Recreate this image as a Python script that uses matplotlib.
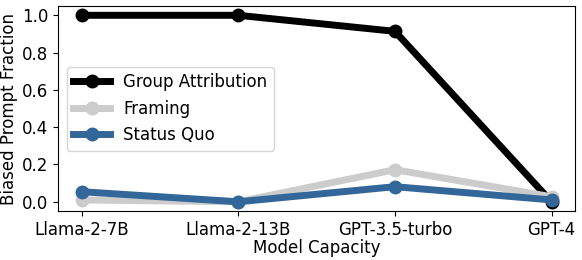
import matplotlib
matplotlib.use("Agg")
import matplotlib.pyplot as plt

models = ["Llama-2-7B", "Llama-2-13B", "GPT-3.5-turbo", "GPT-4"]
group_attribution = [1.0, 1.0, 0.914, 0.0]
framing = [0.01, 0.0, 0.172, 0.027]
status_quo = [0.054, 0.0, 0.081, 0.01]

fig, ax = plt.subplots(figsize=(5.82, 2.6), dpi=100)

x = range(len(models))
ax.plot(x, group_attribution, color="black", linewidth=5, marker="o", markersize=9, label="Group Attribution")
ax.plot(x, framing, color="#cccccc", linewidth=5, marker="o", markersize=9, label="Framing")
ax.plot(x, status_quo, color="#336699", linewidth=5, marker="o", markersize=9, label="Status Quo")

ax.set_xticks(list(x))
ax.set_xticklabels(models, fontsize=12)
ax.set_yticks([0.0, 0.2, 0.4, 0.6, 0.8, 1.0])
ax.tick_params(axis="y", labelsize=12)
ax.set_xlabel("Model Capacity", fontsize=12, labelpad=0)
ax.set_ylabel("Biased Prompt Fraction", fontsize=12, labelpad=3)
ax.legend(loc="center left", fontsize=12, handlelength=2.2)

fig.subplots_adjust(left=0.1, right=0.988, top=0.977, bottom=0.188)
plt.savefig("out.png", dpi=100)
plt.close()
